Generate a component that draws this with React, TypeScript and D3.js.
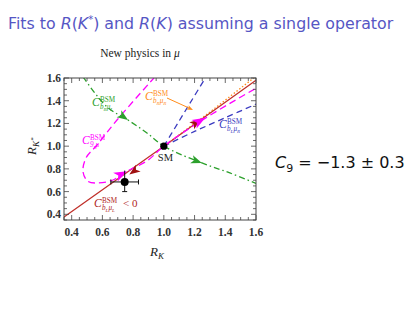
import * as d3 from 'd3'
import React from "react";

// axis range shared by both ratios
const axisRange: [number, number] = [0.35, 1.6];
const majorTicks = [0.4, 0.6, 0.8, 1.0, 1.2, 1.4, 1.6];

// curves as [R_K, R_K*] pairs
const greenCurve: [number, number][] = [
    [0.474, 1.61], [0.63, 1.345], [0.767, 1.23], [0.89, 1.116], [1.0, 1.0],
    [1.248, 0.852], [1.43, 0.764], [1.6, 0.672]
];
const magentaCurve: [number, number][] = [
    [0.942, 1.61], [0.695, 1.23], [0.565, 1.01], [0.493, 0.896], [0.474, 0.773],
    [0.506, 0.69], [0.571, 0.676], [0.669, 0.702], [0.747, 0.77], [0.89, 0.87],
    [1.0, 1.0], [1.268, 1.245], [1.6, 1.51]
];
const redLine: [number, number][] = [[0.35, 0.376], [1.0, 1.0], [1.6, 1.58]];
const orangeLine: [number, number][] = [[1.0, 1.0], [1.3, 1.3], [1.585, 1.6]];
const blueUpper: [number, number][] = [[1.0, 1.0], [1.09, 1.2], [1.18, 1.4], [1.27, 1.6]];
const blueLower: [number, number][] = [[1.0, 1.0], [1.2, 1.13], [1.4, 1.25], [1.6, 1.37]];

// arrows: position and a point to aim at
const arrows = [
    { at: [0.767, 1.23], to: [0.89, 1.116], color: '#2ca02c', size: 11 },
    { at: [1.248, 0.852], to: [1.43, 0.764], color: '#2ca02c', size: 11 },
    { at: [0.775, 0.75], to: [0.6, 0.58], color: '#a01010', size: 11 },
    { at: [1.24, 1.235], to: [1.5, 1.48], color: '#a01010', size: 11 },
    { at: [0.76, 0.78], to: [0.89, 0.87], color: '#ff00ff', size: 13 },
    { at: [1.27, 1.25], to: [1.6, 1.51], color: '#ff00ff', size: 13 },
];

const smPoint: [number, number] = [1.0, 1.0];
const measured = { rk: 0.745, rkLo: 0.655, rkHi: 0.835, rks: 0.685, rksLo: 0.6, rksHi: 0.785 };

const serif = "'Liberation Serif', 'DejaVu Serif', serif";

// C^BSM with a two-level subscript like b_R mu_L
const Coef: React.FC<{ x: number, y: number, color: string, sub: [string, string][] | string, tail?: string }> = ({ x, y, color, sub, tail }) => (
    <g fill={color} fontFamily={serif}>
        <text x={x} y={y} fontSize={11.5} fontStyle="italic">C</text>
        <text x={x + 8} y={y - 4.5} fontSize={7.2}>BSM</text>
        <text x={x + 8} y={y + 3} fontSize={7.2} fontStyle="italic">
            {typeof sub === 'string' ? sub : sub.map((s, i) => (
                <React.Fragment key={i}>
                    <tspan dy={i === 0 ? 0 : -1.5}>{s[0]}</tspan>
                    <tspan fontSize={5} dy={1.5}>{s[1]}</tspan>
                </React.Fragment>
            ))}
        </text>
        {tail ? <text x={x + 29} y={y} fontSize={11}>{tail}</text> : null}
    </g>
);

const App: React.FC = () => {
    const x = d3.scaleLinear().domain(axisRange).range([64, 256]);
    const y = d3.scaleLinear().domain(axisRange).range([220, 78]);
    const line = d3.line<[number, number]>().x(d => x(d[0])).y(d => y(d[1])).curve(d3.curveCatmullRom);
    const straight = d3.line<[number, number]>().x(d => x(d[0])).y(d => y(d[1]));
    const minor = d3.range(0, 26).map(i => 0.35 + i * 0.05);

    const arrowPath = (size: number) => {
        const w = size * 0.38;
        return `M0,0 L${-size},${-w} L${-size * 0.75},0 L${-size},${w} Z`;
    };

    return (
        <svg width={414} height={311} style={{ position: 'absolute', left: 0, top: 0 }}>
            <rect width={414} height={311} fill="white" />
            <defs>
                <clipPath id="plotClip">
                    <rect x={64} y={78} width={192} height={142} />
                </clipPath>
            </defs>

            <text x={8} y={29} fill="#5656c4" fontFamily="'DejaVu Sans', sans-serif" fontSize={15.8}>
                Fits to <tspan fontStyle="italic">R</tspan>(<tspan fontStyle="italic">K</tspan><tspan fontSize={10} dy={-6}>*</tspan><tspan dy={6}>) and </tspan>
                <tspan fontStyle="italic">R</tspan>(<tspan fontStyle="italic">K</tspan>) assuming a single operator
            </text>

            <text x={140} y={57} textAnchor="middle" fontFamily={serif} fontSize={11.5} fill="#222">
                New physics in <tspan fontStyle="italic">μ</tspan>
            </text>

            <g clipPath="url(#plotClip)" fill="none" strokeWidth={1.3}>
                <path d={line(greenCurve) ?? ''} stroke="#2ca02c" strokeDasharray="6,3,1.5,3" />
                <path d={line(blueUpper) ?? ''} stroke="#3a3ac0" strokeDasharray="6,4" />
                <path d={line(blueLower) ?? ''} stroke="#3a3ac0" strokeDasharray="6,4" />
                <path d={straight(orangeLine) ?? ''} stroke="#ff8c1a" strokeDasharray="1.5,2" />
                <path d={straight(redLine) ?? ''} stroke="#c0302a" />
                <path d={line(magentaCurve) ?? ''} stroke="#ff00ff" strokeDasharray="7,4" />
            </g>

            {arrows.map((a, i) => {
                const px = x(a.at[0]), py = y(a.at[1]);
                const ang = Math.atan2(y(a.to[1]) - py, x(a.to[0]) - px) * 180 / Math.PI;
                return <path key={i} d={arrowPath(a.size)} fill={a.color}
                    transform={`translate(${px},${py}) rotate(${ang})`} />;
            })}

            {/* orange pointer from label to line */}
            <line x1={167} y1={98} x2={189} y2={108} stroke="#ff8c1a" strokeWidth={1} />
            <path d={arrowPath(6)} fill="#ff8c1a" transform={`translate(${193},${110}) rotate(${Math.atan2(11, 23) * 180 / Math.PI})`} />

            {/* measurement */}
            <g stroke="#111" strokeWidth={1}>
                <line x1={x(measured.rkLo)} x2={x(measured.rkHi)} y1={y(measured.rks)} y2={y(measured.rks)} />
                <line x1={x(measured.rkLo)} x2={x(measured.rkLo)} y1={y(measured.rks) - 2.5} y2={y(measured.rks) + 2.5} />
                <line x1={x(measured.rkHi)} x2={x(measured.rkHi)} y1={y(measured.rks) - 2.5} y2={y(measured.rks) + 2.5} />
                <line x1={x(measured.rk)} x2={x(measured.rk)} y1={y(measured.rksLo)} y2={y(measured.rksHi)} />
                <line x1={x(measured.rk) - 2.5} x2={x(measured.rk) + 2.5} y1={y(measured.rksLo)} y2={y(measured.rksLo)} />
            </g>
            <circle cx={x(measured.rk)} cy={y(measured.rks)} r={4} fill="#000" />
            <circle cx={x(smPoint[0])} cy={y(smPoint[1])} r={3.6} fill="#000" />
            <text x={x(smPoint[0]) - 6} y={y(smPoint[1]) + 15} fontFamily={serif} fontSize={10.5} fill="#222">SM</text>

            {/* frame and ticks */}
            <rect x={64} y={78} width={192} height={142} fill="none" stroke="#444" strokeWidth={1} />
            <g stroke="#444" strokeWidth={0.8}>
                {minor.map((v, i) => {
                    const isMajor = majorTicks.some(m => Math.abs(m - v) < 1e-6);
                    const len = isMajor ? 5 : 3;
                    return (
                        <React.Fragment key={i}>
                            <line x1={x(v)} x2={x(v)} y1={220} y2={220 - len} />
                            <line x1={x(v)} x2={x(v)} y1={78} y2={78 + len} />
                            <line y1={y(v)} y2={y(v)} x1={64} x2={64 + len} />
                            <line y1={y(v)} y2={y(v)} x1={256} x2={256 - len} />
                        </React.Fragment>
                    );
                })}
            </g>
            <g fontFamily={serif} fontSize={11.5} fontWeight="bold" fill="#333">
                {majorTicks.map(v => (
                    <text key={'x' + v} x={x(v)} y={236} textAnchor="middle">{v.toFixed(1)}</text>
                ))}
                {majorTicks.map(v => (
                    <text key={'y' + v} x={61} y={y(v) + 4} textAnchor="end">{v.toFixed(1)}</text>
                ))}
            </g>

            <text x={150} y={256} fontFamily={serif} fontSize={13} fill="#222" fontStyle="italic">
                R<tspan fontSize={9} dy={3}>K</tspan>
            </text>
            <text transform="translate(36,155) rotate(-90)" fontFamily={serif} fontSize={13} fill="#222" fontStyle="italic">
                R<tspan fontSize={9} dy={3}>K</tspan><tspan fontSize={7} dy={-4}>*</tspan>
            </text>

            {/* curve labels */}
            <Coef x={92} y={106} color="#2ca02c" sub={[['b', 'R'], ['μ', 'L']]} />
            <Coef x={82} y={144} color="#ff00ff" sub="9,μ" />
            <Coef x={145} y={100} color="#ff8c1a" sub={[['b', 'R'], ['μ', 'R']]} />
            <Coef x={219} y={128} color="#3a3ac0" sub={[['b', 'L'], ['μ', 'R']]} />
            <Coef x={94} y={207} color="#b02525" sub={[['b', 'L'], ['μ', 'L']]} tail="< 0" />

            <text x={275} y={168} fontFamily="'DejaVu Sans', sans-serif" fontSize={16} fill="#111">
                <tspan fontStyle="italic">C</tspan><tspan fontSize={11} dy={4}>9</tspan><tspan dy={-4}> = −1.3 ± 0.3</tspan>
            </text>
        </svg>
    );
}

export default App;
